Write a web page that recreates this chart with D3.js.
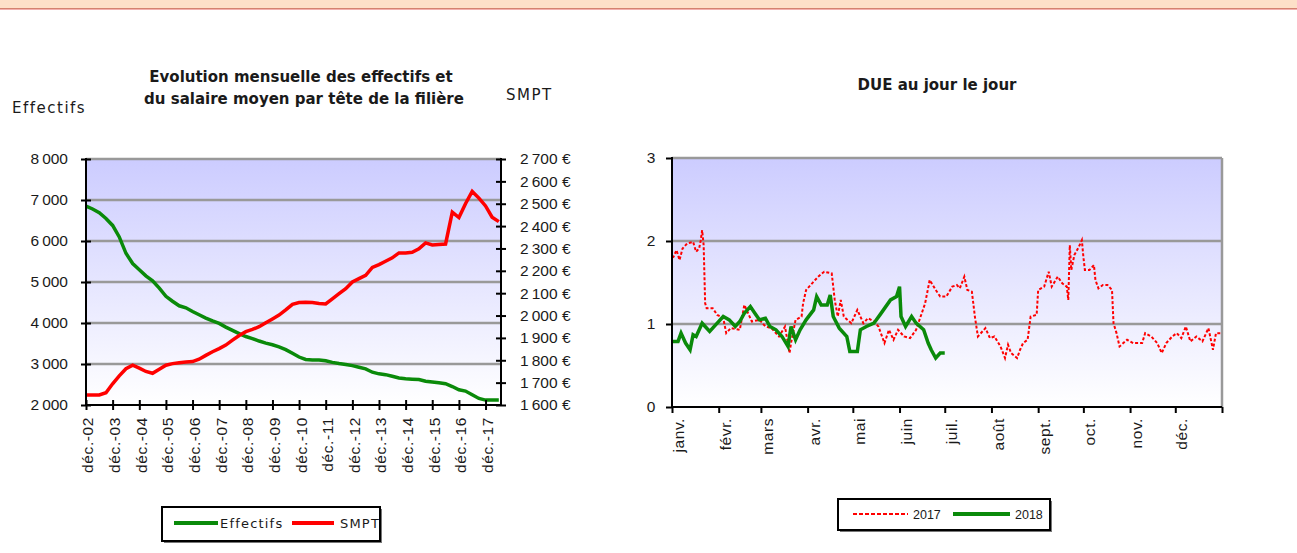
<!DOCTYPE html>
<html>
<head>
<meta charset="utf-8">
<script src="https://cdn.jsdelivr.net/npm/d3@7"></script>
<style>
  body { margin: 0; background: #fff; }
  text { font-family: "Liberation Sans", Arial, sans-serif; fill: #1a1a1a; }
  .title { font-family: "DejaVu Sans", sans-serif; font-weight: bold; font-size: 15px; }
  .lab { font-family: "DejaVu Sans", sans-serif; font-size: 15px; letter-spacing: 1.5px; }
</style>
</head>
<body>
<script>
// --- left chart data: quarterly from déc. 2002
var effStart = new Date(2002, 11, 1);
var effectifs = [6850, 6780, 6690, 6550, 6380, 6100, 5700, 5450, 5300, 5150, 5030, 4850,
  4650, 4530, 4420, 4370, 4280, 4200, 4120, 4050, 3990, 3900, 3820, 3740,
  3670, 3620, 3560, 3510, 3470, 3420, 3350, 3260, 3170, 3110, 3100, 3100,
  3080, 3040, 3010, 2990, 2960, 2920, 2880, 2800, 2760, 2740, 2700, 2660,
  2640, 2630, 2620, 2580, 2560, 2540, 2520, 2450, 2370, 2340, 2250, 2160,
  2120, 2120, 2120];
var smpt = [1645, 1645, 1645, 1655, 1695, 1730, 1762, 1778, 1765, 1750, 1742, 1760,
  1778, 1785, 1789, 1792, 1794, 1805, 1822, 1838, 1852, 1868, 1890, 1911,
  1928, 1938, 1950, 1968, 1985, 2002, 2025, 2050, 2058, 2059, 2058, 2054,
  2052, 2075, 2098, 2120, 2150, 2165, 2180, 2215, 2228, 2243, 2258, 2280,
  2280, 2283, 2298, 2325, 2316, 2318, 2320, 2462, 2438, 2500, 2555, 2525,
  2490, 2440, 2420];
var effTicks = [2000, 3000, 4000, 5000, 6000, 7000, 8000];
var smptTicks = [1600, 1700, 1800, 1900, 2000, 2100, 2200, 2300, 2400, 2500, 2600, 2700];

// --- right chart data: day of year, DUE value
var months = ["janv.", "févr.", "mars", "avr.", "mai", "juin", "juil.", "août", "sept.", "oct.", "nov.", "déc."];
var monthStarts = [0, 31, 59, 90, 120, 151, 181, 212, 243, 273, 304, 334];
var due2017Days = [0, 1, 3, 5, 7, 10, 14, 16, 18, 19, 20, 21, 22, 23, 27, 30, 34, 36, 39, 45, 48, 50, 53, 58,
  62, 66, 71, 75, 78, 79, 82, 86, 87, 89, 93, 97, 101, 106, 108, 110, 112, 114, 119, 123, 127, 130,
  134, 137, 141, 144, 147, 150, 154, 158, 162, 165, 168, 171, 175, 178, 182, 186, 189, 191, 194, 196,
  199, 201, 203, 208, 211, 214, 218, 221, 223, 225, 229, 231, 233, 236, 238, 242, 243, 247, 250, 252,
  256, 259, 262, 263, 264, 265, 267, 270, 272, 273, 274, 277, 280, 281, 283, 286, 289, 292, 293, 295,
  297, 302, 306, 312, 314, 318, 322, 325, 328, 332, 335, 338, 341, 344, 348, 352, 356, 359, 361, 364];
var due2017 = [1.80, 1.81, 1.89, 1.77, 1.91, 1.97, 1.99, 1.87, 1.91, 2.00, 2.13, 1.95, 1.25, 1.19, 1.19, 1.11, 1.07, 0.89, 0.95, 0.93, 1.23, 1.15, 1.03, 1.05,
  0.97, 0.95, 0.85, 0.97, 0.65, 0.77, 1.05, 1.09, 1.25, 1.41, 1.49, 1.57, 1.63, 1.61, 1.29, 1.09, 1.29, 1.09, 1.01, 1.17, 1.01, 1.07,
  1.03, 0.97, 0.77, 0.93, 0.81, 0.93, 0.85, 0.83, 0.93, 1.09, 1.25, 1.53, 1.41, 1.33, 1.33, 1.45, 1.47, 1.43, 1.57, 1.41,
  1.39, 1.09, 0.85, 0.95, 0.83, 0.85, 0.73, 0.59, 0.75, 0.65, 0.59, 0.69, 0.77, 0.81, 1.09, 1.11, 1.41, 1.45, 1.63, 1.45,
  1.57, 1.49, 1.45, 1.29, 1.95, 1.65, 1.83, 1.93, 2.01, 1.81, 1.65, 1.65, 1.71, 1.53, 1.43, 1.47, 1.47, 1.41, 1.01, 0.89,
  0.73, 0.81, 0.77, 0.77, 0.89, 0.85, 0.77, 0.65, 0.77, 0.85, 0.89, 0.83, 0.97, 0.79, 0.85, 0.79, 0.95, 0.69, 0.89, 0.89];
var due2018Days = [0, 1, 4, 6, 9, 12, 14, 16, 20, 22, 25, 30, 34, 38, 42, 45, 48, 52, 55, 58, 62, 65, 69, 73, 77, 79,
  82, 85, 89, 94, 96, 99, 103, 105, 107, 111, 116, 118, 123, 125, 129, 134, 138, 145, 149, 151, 152, 155,
  159, 162, 167, 170, 172, 175, 178, 181];
var due2018 = [0.79, 0.79, 0.79, 0.89, 0.77, 0.69, 0.87, 0.85, 1.01, 0.97, 0.91, 1.01, 1.09, 1.05, 0.97, 1.03, 1.13, 1.21, 1.13, 1.05, 1.07, 0.97, 0.93, 0.85, 0.73, 0.97,
  0.81, 0.93, 1.05, 1.17, 1.33, 1.23, 1.23, 1.35, 1.09, 0.95, 0.85, 0.67, 0.67, 0.93, 0.97, 1.01, 1.11, 1.29, 1.33, 1.45, 1.09, 0.97,
  1.09, 1.01, 0.93, 0.77, 0.69, 0.59, 0.65, 0.65];
var dueTicks = [0, 1, 2, 3];

var fr = d3.formatLocale({decimal: ",", thousands: "\u202f", grouping: [3], currency: ["", " €"]});
var fmtNum = fr.format(",");

var svg = d3.select("body").append("svg").attr("width", 1297).attr("height", 553);

// top band
svg.append("rect").attr("x", 0).attr("y", 0).attr("width", 1297).attr("height", 8).attr("fill", "#fde0c8");
svg.append("line").attr("x1", 0).attr("x2", 1297).attr("y1", 8.5).attr("y2", 8.5).attr("stroke", "#d4826f");
svg.append("line").attr("x1", 0).attr("x2", 1297).attr("y1", 9.5).attr("y2", 9.5).attr("stroke", "#f2b0ae");

var grad = svg.append("defs").append("linearGradient").attr("id", "bg")
    .attr("x1", 0).attr("x2", 0).attr("y1", 0).attr("y2", 1);
grad.append("stop").attr("offset", "0%").attr("stop-color", "#ccccff");
grad.append("stop").attr("offset", "100%").attr("stop-color", "#ffffff");

function crossTicks(g, a, b, horizontal) {
    g.select(".domain").remove();
    if (horizontal) g.selectAll(".tick line").attr("y1", a).attr("y2", b).attr("stroke", "#000").attr("stroke-width", 2);
    else g.selectAll(".tick line").attr("x1", a).attr("x2", b).attr("stroke", "#000").attr("stroke-width", 2);
    g.selectAll(".tick text").style("font-size", "15.5px").style("letter-spacing", "0.6px").attr("fill", "#1a1a1a");
}

// ================= left chart
var L = {x0: 86, x1: 501, y0: 159, y1: 405};
var x = d3.scaleTime().domain([new Date(2002, 11, 1), new Date(2018, 6, 1)]).range([L.x0, L.x1]);
var yL = d3.scaleLinear().domain([2000, 8000]).range([L.y1, L.y0]);
var yR = d3.scaleLinear().domain([1600, 2700]).range([L.y1, L.y0]);
var leftDates = effectifs.map(function(d, i) { return d3.timeMonth.offset(effStart, 3 * i); });

var left = svg.append("g");
left.append("rect").attr("x", L.x0).attr("y", L.y0).attr("width", L.x1 - L.x0).attr("height", L.y1 - L.y0).attr("fill", "url(#bg)");
left.selectAll(".grid").data(effTicks.slice(1)).enter().append("line")
    .attr("x1", L.x0).attr("x2", L.x1).attr("y1", function(d) { return yL(d); }).attr("y2", function(d) { return yL(d); })
    .attr("stroke", "#999").attr("stroke-width", 2.5);

left.append("path").datum(effectifs).attr("fill", "none").attr("stroke", "#0a8a0a").attr("stroke-width", 3.5)
    .attr("d", d3.line().x(function(d, i) { return x(leftDates[i]); }).y(function(d) { return yL(d); }));
left.append("path").datum(smpt).attr("fill", "none").attr("stroke", "#ff0000").attr("stroke-width", 3.5)
    .attr("d", d3.line().x(function(d, i) { return x(leftDates[i]); }).y(function(d) { return yR(d); }));

var decTicks = d3.range(2002, 2018).map(function(y) { return new Date(y, 11, 1); });
var gx = left.append("g").attr("transform", "translate(0," + L.y1 + ")")
    .call(d3.axisBottom(x).tickValues(decTicks).tickFormat(function(d) { return "déc.-" + d3.timeFormat("%y")(d); }));
crossTicks(gx, -5, 5, true);
gx.selectAll(".tick text").attr("transform", "rotate(-90)").attr("text-anchor", "end")
    .attr("x", -12).attr("y", 0).attr("dy", "0.45em");

var gyl = left.append("g").attr("transform", "translate(" + L.x0 + ",0)")
    .call(d3.axisLeft(yL).tickValues(effTicks).tickFormat(fmtNum));
crossTicks(gyl, -5, 5, false);
gyl.selectAll(".tick text").attr("x", -18);

var gyr = left.append("g").attr("transform", "translate(" + L.x1 + ",0)")
    .call(d3.axisRight(yR).tickValues(smptTicks).tickFormat(function(d) { return fmtNum(d) + " €"; }));
crossTicks(gyr, -5, 5, false);
gyr.selectAll(".tick text").attr("x", 19);

left.append("line").attr("x1", L.x0).attr("x2", L.x0).attr("y1", L.y0 - 1).attr("y2", L.y1 + 1).attr("stroke", "#000").attr("stroke-width", 2);
left.append("line").attr("x1", L.x1).attr("x2", L.x1).attr("y1", L.y0 - 1).attr("y2", L.y1 + 1).attr("stroke", "#000").attr("stroke-width", 2);
left.append("line").attr("x1", L.x0).attr("x2", L.x1).attr("y1", L.y1).attr("y2", L.y1).attr("stroke", "#000").attr("stroke-width", 2);

left.append("text").attr("class", "title").attr("x", 301).attr("y", 82).attr("text-anchor", "middle").text("Evolution mensuelle des effectifs et");
left.append("text").attr("class", "title").attr("x", 304).attr("y", 104).attr("text-anchor", "middle").text("du salaire moyen par tête de la filière");
left.append("text").attr("class", "lab").attr("x", 12).attr("y", 113).text("Effectifs");
left.append("text").attr("class", "lab").attr("x", 506).attr("y", 100).text("SMPT");

// legend
var lg = left.append("g");
lg.append("rect").attr("x", 164).attr("y", 509).attr("width", 218).attr("height", 34).attr("fill", "#777");
lg.append("rect").attr("x", 162).attr("y", 507).attr("width", 218).attr("height", 34).attr("fill", "#fff").attr("stroke", "#000").attr("stroke-width", 2);
lg.append("line").attr("x1", 174).attr("x2", 218).attr("y1", 523).attr("y2", 523).attr("stroke", "#0a8a0a").attr("stroke-width", 4);
lg.append("text").attr("class", "lab").attr("x", 220).attr("y", 528).style("font-size", "13px").style("letter-spacing", "1.2px").text("Effectifs");
lg.append("line").attr("x1", 292).attr("x2", 334).attr("y1", 523).attr("y2", 523).attr("stroke", "#ff0000").attr("stroke-width", 4);
lg.append("text").attr("class", "lab").attr("x", 340).attr("y", 528).style("font-size", "13px").style("letter-spacing", "1.2px").text("SMPT");

// ================= right chart
var R = {x0: 672, x1: 1222, y0: 158, y1: 407};
var xd = d3.scaleLinear().domain([0, 365]).range([R.x0, R.x1]);
var yd = d3.scaleLinear().domain([0, 3]).range([R.y1, R.y0]);

var right = svg.append("g");
right.append("rect").attr("x", R.x0).attr("y", R.y0).attr("width", R.x1 - R.x0).attr("height", R.y1 - R.y0).attr("fill", "url(#bg)");
right.selectAll(".grid").data(dueTicks.slice(1)).enter().append("line")
    .attr("x1", R.x0).attr("x2", R.x1).attr("y1", function(d) { return yd(d); }).attr("y2", function(d) { return yd(d); })
    .attr("stroke", "#999").attr("stroke-width", 2.5);
right.append("line").attr("x1", R.x1).attr("x2", R.x1).attr("y1", R.y0).attr("y2", R.y1).attr("stroke", "#999").attr("stroke-width", 2.5);

right.append("path").datum(due2017).attr("fill", "none").attr("stroke", "#ff0000").attr("stroke-width", 2)
    .attr("stroke-dasharray", "3,2")
    .attr("d", d3.line().x(function(d, i) { return xd(due2017Days[i]); }).y(function(d) { return yd(d); }));
right.append("path").datum(due2018).attr("fill", "none").attr("stroke", "#0a8a0a").attr("stroke-width", 3.5)
    .attr("d", d3.line().x(function(d, i) { return xd(due2018Days[i]); }).y(function(d) { return yd(d); }));

var gdx = right.append("g").attr("transform", "translate(0," + R.y1 + ")")
    .call(d3.axisBottom(xd).tickValues(monthStarts.concat([365]))
        .tickFormat(function(d) { var i = monthStarts.indexOf(d); return i < 0 ? "" : months[i]; }));
crossTicks(gdx, 0, 6, true);
gdx.selectAll(".tick text").attr("transform", "rotate(-90)").attr("text-anchor", "end")
    .attr("x", -11).attr("y", 0).attr("dy", "0.75em");

var gdy = right.append("g").attr("transform", "translate(" + R.x0 + ",0)")
    .call(d3.axisLeft(yd).tickValues(dueTicks).tickFormat(d3.format("d")));
crossTicks(gdy, -6, 0, false);
gdy.selectAll(".tick text").attr("x", -16);

right.append("line").attr("x1", R.x0).attr("x2", R.x0).attr("y1", R.y0 - 1).attr("y2", R.y1 + 1).attr("stroke", "#000").attr("stroke-width", 2);
right.append("line").attr("x1", R.x0).attr("x2", R.x1).attr("y1", R.y1).attr("y2", R.y1).attr("stroke", "#000").attr("stroke-width", 2);

right.append("text").attr("class", "title").attr("x", 937).attr("y", 90).attr("text-anchor", "middle").text("DUE au jour le jour");

var rg = right.append("g");
rg.append("rect").attr("x", 840).attr("y", 501).attr("width", 212).attr("height", 31).attr("fill", "#777");
rg.append("rect").attr("x", 838).attr("y", 499).attr("width", 212).attr("height", 31).attr("fill", "#fff").attr("stroke", "#000").attr("stroke-width", 2);
rg.append("line").attr("x1", 853).attr("x2", 908).attr("y1", 514).attr("y2", 514).attr("stroke", "#ff0000").attr("stroke-width", 2).attr("stroke-dasharray", "4,2");
rg.append("text").attr("x", 913).attr("y", 519).style("font-size", "12.5px").text("2017");
rg.append("line").attr("x1", 953).attr("x2", 1010).attr("y1", 514).attr("y2", 514).attr("stroke", "#0a8a0a").attr("stroke-width", 4);
rg.append("text").attr("x", 1015).attr("y", 519).style("font-size", "12.5px").text("2018");
</script>
</body>
</html>
